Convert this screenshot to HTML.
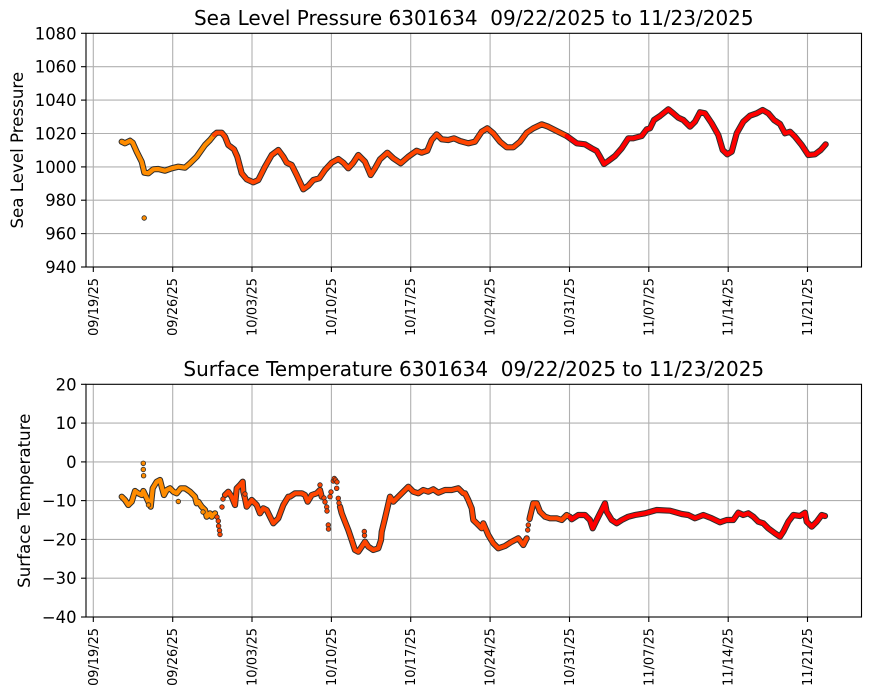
<!DOCTYPE html>
<html>
<head>
<meta charset="utf-8">
<style>
html,body{margin:0;padding:0;background:#fff;}
svg{display:block;}
text{font-family:"DejaVu Sans","Liberation Sans",sans-serif;fill:#000;}
.tk{font-size:16.4px;}
.xt{font-size:12.9px;}
.ttl{font-size:16.67px;}
.big{font-size:20px;}
.grid line{stroke:#b0b0b0;stroke-width:1.1;}
.ticks line{stroke:#000;stroke-width:1.1;}
.edge{fill:none;stroke:#2e2e2e;stroke-width:6.2;stroke-linejoin:round;stroke-linecap:round;}
.c1{fill:none;stroke:#ff8c00;stroke-width:4.2;stroke-linejoin:round;stroke-linecap:round;}
.c2{fill:none;stroke:#ff4500;stroke-width:4.2;stroke-linejoin:round;stroke-linecap:round;}
.c3{fill:none;stroke:#ff0000;stroke-width:4.2;stroke-linejoin:round;stroke-linecap:round;}
.d1{fill:#ff8c00;stroke:#2e2e2e;stroke-width:0.8;}
.d2{fill:#ff4500;stroke:#2e2e2e;stroke-width:0.8;}
</style>
</head>
<body>
<svg width="870" height="700" viewBox="0 0 870 700" xmlns="http://www.w3.org/2000/svg">
<rect width="870" height="700" fill="#fff"/>

<!-- ============ TOP PLOT ============ -->
<g class="grid">
  <line x1="93.3" y1="33.3" x2="93.3" y2="267"/>
  <line x1="172.7" y1="33.3" x2="172.7" y2="267"/>
  <line x1="252" y1="33.3" x2="252" y2="267"/>
  <line x1="331.4" y1="33.3" x2="331.4" y2="267"/>
  <line x1="410.7" y1="33.3" x2="410.7" y2="267"/>
  <line x1="490.1" y1="33.3" x2="490.1" y2="267"/>
  <line x1="569.5" y1="33.3" x2="569.5" y2="267"/>
  <line x1="648.8" y1="33.3" x2="648.8" y2="267"/>
  <line x1="728.2" y1="33.3" x2="728.2" y2="267"/>
  <line x1="807.5" y1="33.3" x2="807.5" y2="267"/>
  <line x1="86" y1="66.7" x2="861.5" y2="66.7"/>
  <line x1="86" y1="100.1" x2="861.5" y2="100.1"/>
  <line x1="86" y1="133.5" x2="861.5" y2="133.5"/>
  <line x1="86" y1="166.9" x2="861.5" y2="166.9"/>
  <line x1="86" y1="200.2" x2="861.5" y2="200.2"/>
  <line x1="86" y1="233.6" x2="861.5" y2="233.6"/>
</g>

<!-- top series -->
<g>
<polyline class="edge" points="121.7,141.7 125,143.3 130,140.7 132.7,142.7 136.7,151.7 141.7,161.7 143.3,168.3 144.3,172.7 148.3,173.3 153.3,169.3 158.3,169 165,170.7 171.7,168.3 178.3,166.7 185,167.7 190,163.3 196.7,156.7 205,145 210,140 214,135"/>
<polyline class="edge" points="214,135 216.7,132.7 221.7,132.7 225,136.7 228.3,145 234,149.3 237.3,156.7 241.7,173.3 246.7,179.3 253.3,182.3 258.3,180 265,166.7 271.7,155 278.3,150 283.3,156.7 286.7,162.7 291.7,165 296.7,175 303.3,189.3 308.3,185.7 313.3,180 319.3,178.3 325,170 331.7,162.7 338.3,159 343.3,162.7 348.3,168.3 353.3,162.7 358.3,155 365,161.7 370.7,175 375,168.3 380,159.3 387.3,152.7 393.3,158.3 400.7,163.3 408.3,156.7 416.7,150.7 421.7,152.7 427.3,150.7 431.7,140 436.7,134.3 441.7,139.3 448.3,140 454,138.3 460,141 468.3,143.3 475,141.7 481.7,131.7 487.3,128.3 493.3,133.3 500,141.7 506.7,147.3 513.3,147.3 520,141.7 526.7,132.7 533.3,128.3 541.7,124.3 548.3,126.7 556.7,131 566.7,136"/>
<polyline class="edge" points="566.7,136 576.7,143.3 585,144.3 591.7,148.3 596.7,151 600,156.7 604,164 608.3,161 615,156 621.7,148.3 628.3,138.3 633.3,138.3 641.7,136 646.7,129.3 650,128.3 654,120 660,116 668.3,109.3 673.3,113.3 678.3,117.7 683.3,120 690,126.7 695,121.7 700,112.3 705,113.3 711.7,123.3 718.3,135 722.7,150 727.3,154.3 731.7,151.7 736.7,133.3 743.3,121.7 750,115.7 756.7,113.3 762.7,110 768.3,113.3 774,120 780,124 785,133.3 790,131.7 795,136.7 801.7,145 808.3,155 815,154.3 820.7,150 825.7,144.3"/>
<polyline class="c1" points="121.7,141.7 125,143.3 130,140.7 132.7,142.7 136.7,151.7 141.7,161.7 143.3,168.3 144.3,172.7 148.3,173.3 153.3,169.3 158.3,169 165,170.7 171.7,168.3 178.3,166.7 185,167.7 190,163.3 196.7,156.7 205,145 210,140 214,135"/>
<polyline class="c2" points="214,135 216.7,132.7 221.7,132.7 225,136.7 228.3,145 234,149.3 237.3,156.7 241.7,173.3 246.7,179.3 253.3,182.3 258.3,180 265,166.7 271.7,155 278.3,150 283.3,156.7 286.7,162.7 291.7,165 296.7,175 303.3,189.3 308.3,185.7 313.3,180 319.3,178.3 325,170 331.7,162.7 338.3,159 343.3,162.7 348.3,168.3 353.3,162.7 358.3,155 365,161.7 370.7,175 375,168.3 380,159.3 387.3,152.7 393.3,158.3 400.7,163.3 408.3,156.7 416.7,150.7 421.7,152.7 427.3,150.7 431.7,140 436.7,134.3 441.7,139.3 448.3,140 454,138.3 460,141 468.3,143.3 475,141.7 481.7,131.7 487.3,128.3 493.3,133.3 500,141.7 506.7,147.3 513.3,147.3 520,141.7 526.7,132.7 533.3,128.3 541.7,124.3 548.3,126.7 556.7,131 566.7,136"/>
<polyline class="c3" points="566.7,136 576.7,143.3 585,144.3 591.7,148.3 596.7,151 600,156.7 604,164 608.3,161 615,156 621.7,148.3 628.3,138.3 633.3,138.3 641.7,136 646.7,129.3 650,128.3 654,120 660,116 668.3,109.3 673.3,113.3 678.3,117.7 683.3,120 690,126.7 695,121.7 700,112.3 705,113.3 711.7,123.3 718.3,135 722.7,150 727.3,154.3 731.7,151.7 736.7,133.3 743.3,121.7 750,115.7 756.7,113.3 762.7,110 768.3,113.3 774,120 780,124 785,133.3 790,131.7 795,136.7 801.7,145 808.3,155 815,154.3 820.7,150 825.7,144.3"/>
<circle class="d1" cx="144.2" cy="218" r="2.3"/>
</g>

<!-- top frame -->
<rect x="86" y="33.3" width="775.5" height="233.7" fill="none" stroke="#000" stroke-width="1.1"/>
<g class="ticks">
  <line x1="93.3" y1="267" x2="93.3" y2="272"/>
  <line x1="172.7" y1="267" x2="172.7" y2="272"/>
  <line x1="252" y1="267" x2="252" y2="272"/>
  <line x1="331.4" y1="267" x2="331.4" y2="272"/>
  <line x1="410.7" y1="267" x2="410.7" y2="272"/>
  <line x1="490.1" y1="267" x2="490.1" y2="272"/>
  <line x1="569.5" y1="267" x2="569.5" y2="272"/>
  <line x1="648.8" y1="267" x2="648.8" y2="272"/>
  <line x1="728.2" y1="267" x2="728.2" y2="272"/>
  <line x1="807.5" y1="267" x2="807.5" y2="272"/>
  <line x1="81" y1="33.3" x2="86" y2="33.3"/>
  <line x1="81" y1="66.7" x2="86" y2="66.7"/>
  <line x1="81" y1="100.1" x2="86" y2="100.1"/>
  <line x1="81" y1="133.5" x2="86" y2="133.5"/>
  <line x1="81" y1="166.9" x2="86" y2="166.9"/>
  <line x1="81" y1="200.2" x2="86" y2="200.2"/>
  <line x1="81" y1="233.6" x2="86" y2="233.6"/>
  <line x1="81" y1="267" x2="86" y2="267"/>
</g>
<g class="tk" text-anchor="end">
  <text x="76.5" y="39.3">1080</text>
  <text x="76.5" y="72.7">1060</text>
  <text x="76.5" y="106.1">1040</text>
  <text x="76.5" y="139.5">1020</text>
  <text x="76.5" y="172.9">1000</text>
  <text x="76.5" y="206.2">980</text>
  <text x="76.5" y="239.6">960</text>
  <text x="76.5" y="273">940</text>
</g>
<g class="xt" text-anchor="end">
  <text transform="translate(97.8,278) rotate(-90)">09/19/25</text>
  <text transform="translate(177.2,278) rotate(-90)">09/26/25</text>
  <text transform="translate(256.5,278) rotate(-90)">10/03/25</text>
  <text transform="translate(335.9,278) rotate(-90)">10/10/25</text>
  <text transform="translate(415.2,278) rotate(-90)">10/17/25</text>
  <text transform="translate(494.6,278) rotate(-90)">10/24/25</text>
  <text transform="translate(574,278) rotate(-90)">10/31/25</text>
  <text transform="translate(653.3,278) rotate(-90)">11/07/25</text>
  <text transform="translate(732.7,278) rotate(-90)">11/14/25</text>
  <text transform="translate(812,278) rotate(-90)">11/21/25</text>
</g>
<text class="big" x="473.8" y="25" text-anchor="middle" xml:space="preserve">Sea Level Pressure 6301634  09/22/2025 to 11/23/2025</text>
<text class="ttl" transform="translate(23,150.2) rotate(-90)" text-anchor="middle">Sea Level Pressure</text>

<!-- ============ BOTTOM PLOT ============ -->
<g class="grid">
  <line x1="93.3" y1="384.3" x2="93.3" y2="617"/>
  <line x1="172.7" y1="384.3" x2="172.7" y2="617"/>
  <line x1="252" y1="384.3" x2="252" y2="617"/>
  <line x1="331.4" y1="384.3" x2="331.4" y2="617"/>
  <line x1="410.7" y1="384.3" x2="410.7" y2="617"/>
  <line x1="490.1" y1="384.3" x2="490.1" y2="617"/>
  <line x1="569.5" y1="384.3" x2="569.5" y2="617"/>
  <line x1="648.8" y1="384.3" x2="648.8" y2="617"/>
  <line x1="728.2" y1="384.3" x2="728.2" y2="617"/>
  <line x1="807.5" y1="384.3" x2="807.5" y2="617"/>
  <line x1="86" y1="423.1" x2="861.5" y2="423.1"/>
  <line x1="86" y1="461.9" x2="861.5" y2="461.9"/>
  <line x1="86" y1="500.6" x2="861.5" y2="500.6"/>
  <line x1="86" y1="539.4" x2="861.5" y2="539.4"/>
  <line x1="86" y1="578.2" x2="861.5" y2="578.2"/>
</g>

<g>
<!-- edges -->
<polyline class="edge" points="121.7,496.7 125,500 128.3,505 131.7,501.7 135,491 138.3,493.3 141.7,495 143.3,491 146,496.7 148.3,501.7 150.7,506.7 152.7,488.3 156.7,481.7 160,480 161.7,486.7 164,495 166.7,490 170,488.3 173.3,491.7 176.7,493.3 180.7,488.3 185,488.3 190,491.7 195,496.7 196.7,503.3 198.3,501.7 201.7,506.7 205,510 206.7,516.7 210,513.3 211.7,516.7 215,513.3"/>
<polyline class="edge" points="225,495 228.3,491.7 231.7,496.7 235,505 236.7,488.3 240,485 242.7,481.7 243.3,491.7 245,498.3 246.7,506.7 251.7,500 256.7,505 260,513.3 263.3,508.3 266.7,510 270,516.7 273.3,523.3 278.3,518.3 283.3,505 288.3,496.7 290,496.7 295,493.3 301.7,493.3 305,495 307.7,501.7 311.7,495 316.7,493.3 320,490 321.7,496.7"/>
<polyline class="edge" points="340,506.7 341.7,513.3 345,521.7 348.3,530 351.7,540 355,550 358.3,551.7 361.7,546.7 365,541.7 368.3,546.7 373.3,550 378.3,548.3 381,540 381.7,531.7 385,518.3 387.7,506.7 390,496.7 393.3,501.7 398.3,496.7 403.3,491.7 408.3,486.7 413.3,491.7 418.3,493.3 423.3,490 428.3,491.7 433.3,489.3 438.3,492.7 445,490 451.7,490 458.3,488.3 463.3,493.3 465,493.3 468.3,500 471.7,508.3 473.3,520 476.7,523.3 481.7,528.3 483.3,523.3 488.3,535 493.3,543.3 498.3,548.3 505,546 511.7,541.7 518.3,538.3 523.3,545 526.7,538.3"/>
<polyline class="edge" points="529.5,519 530,516.7 533.3,503.3 536.7,503.3 540,511.7 545,516.7 550,518.3 556.7,518.3 561.7,520 566.7,515 570,517"/>
<polyline class="edge" points="570,517 571.7,519.3 578.3,515 585,515 590,520 592.7,528.3 596.7,520 601.7,510 605,503.3 606.7,511.7 611.7,520 616.7,523.3 621.7,520 628.3,516.7 635,515 645,513.3 656.7,510 670,510.7 681.7,514 688.3,515 695,518.3 703.3,515 711.7,518.3 720,522.3 726.7,520 733.3,520 738.3,512.7 743.3,515 748.3,513.3 753.3,516.7 758.3,521.7 763.3,523.3 768.3,528.3 775,533.3 780,536.7 783.3,531.7 788.3,521.7 793.3,515 800,516 805,512.7 806.7,521.7 811.7,526.7 816.7,521.7 821.7,515 825,516"/>
<!-- colors -->
<polyline class="c1" points="121.7,496.7 125,500 128.3,505 131.7,501.7 135,491 138.3,493.3 141.7,495 143.3,491 146,496.7 148.3,501.7 150.7,506.7 152.7,488.3 156.7,481.7 160,480 161.7,486.7 164,495 166.7,490 170,488.3 173.3,491.7 176.7,493.3 180.7,488.3 185,488.3 190,491.7 195,496.7 196.7,503.3 198.3,501.7 201.7,506.7 205,510 206.7,516.7 210,513.3 211.7,516.7 215,513.3"/>
<polyline class="c2" points="225,495 228.3,491.7 231.7,496.7 235,505 236.7,488.3 240,485 242.7,481.7 243.3,491.7 245,498.3 246.7,506.7 251.7,500 256.7,505 260,513.3 263.3,508.3 266.7,510 270,516.7 273.3,523.3 278.3,518.3 283.3,505 288.3,496.7 290,496.7 295,493.3 301.7,493.3 305,495 307.7,501.7 311.7,495 316.7,493.3 320,490 321.7,496.7"/>
<polyline class="c2" points="340,506.7 341.7,513.3 345,521.7 348.3,530 351.7,540 355,550 358.3,551.7 361.7,546.7 365,541.7 368.3,546.7 373.3,550 378.3,548.3 381,540 381.7,531.7 385,518.3 387.7,506.7 390,496.7 393.3,501.7 398.3,496.7 403.3,491.7 408.3,486.7 413.3,491.7 418.3,493.3 423.3,490 428.3,491.7 433.3,489.3 438.3,492.7 445,490 451.7,490 458.3,488.3 463.3,493.3 465,493.3 468.3,500 471.7,508.3 473.3,520 476.7,523.3 481.7,528.3 483.3,523.3 488.3,535 493.3,543.3 498.3,548.3 505,546 511.7,541.7 518.3,538.3 523.3,545 526.7,538.3"/>
<polyline class="c2" points="529.5,519 530,516.7 533.3,503.3 536.7,503.3 540,511.7 545,516.7 550,518.3 556.7,518.3 561.7,520 566.7,515 570,517"/>
<polyline class="c3" points="570,517 571.7,519.3 578.3,515 585,515 590,520 592.7,528.3 596.7,520 601.7,510 605,503.3 606.7,511.7 611.7,520 616.7,523.3 621.7,520 628.3,516.7 635,515 645,513.3 656.7,510 670,510.7 681.7,514 688.3,515 695,518.3 703.3,515 711.7,518.3 720,522.3 726.7,520 733.3,520 738.3,512.7 743.3,515 748.3,513.3 753.3,516.7 758.3,521.7 763.3,523.3 768.3,528.3 775,533.3 780,536.7 783.3,531.7 788.3,521.7 793.3,515 800,516 805,512.7 806.7,521.7 811.7,526.7 816.7,521.7 821.7,515 825,516"/>
<!-- scattered dots -->
<circle class="d1" cx="143.3" cy="463.3" r="2.3"/>
<circle class="d1" cx="143.3" cy="469.5" r="2.3"/>
<circle class="d1" cx="143.6" cy="475.7" r="2.3"/>
<circle class="d1" cx="178.3" cy="501.5" r="2.3"/>
<circle class="d1" cx="148.5" cy="505" r="2.3"/>
<circle class="d1" cx="203" cy="512" r="2.3"/>
<circle class="d2" cx="217" cy="517" r="2.3"/>
<circle class="d2" cx="218.3" cy="521" r="2.3"/>
<circle class="d2" cx="218.6" cy="526" r="2.3"/>
<circle class="d2" cx="219.5" cy="530.5" r="2.3"/>
<circle class="d2" cx="220" cy="534.5" r="2.3"/>
<circle class="d2" cx="222" cy="507" r="2.3"/>
<circle class="d2" cx="223" cy="499" r="2.3"/>
<circle class="d2" cx="245" cy="494" r="2.3"/>
<circle class="d2" cx="320" cy="485" r="2.3"/>
<circle class="d2" cx="324" cy="498" r="2.3"/>
<circle class="d2" cx="325" cy="502" r="2.3"/>
<circle class="d2" cx="326.7" cy="507" r="2.3"/>
<circle class="d2" cx="327" cy="511" r="2.3"/>
<circle class="d2" cx="328.3" cy="525" r="2.3"/>
<circle class="d2" cx="328.5" cy="529" r="2.3"/>
<circle class="d2" cx="330" cy="496.7" r="2.3"/>
<circle class="d2" cx="331" cy="492" r="2.3"/>
<circle class="d2" cx="333.3" cy="481" r="2.3"/>
<circle class="d2" cx="334.3" cy="478.5" r="2.3"/>
<circle class="d2" cx="335.5" cy="480" r="2.3"/>
<circle class="d2" cx="337" cy="482" r="2.3"/>
<circle class="d2" cx="336.7" cy="488.3" r="2.3"/>
<circle class="d2" cx="338.3" cy="498.3" r="2.3"/>
<circle class="d2" cx="339" cy="503" r="2.3"/>
<circle class="d2" cx="364.3" cy="531.5" r="2.3"/>
<circle class="d2" cx="364.5" cy="535.5" r="2.3"/>
<circle class="d2" cx="527.7" cy="530" r="2.3"/>
<circle class="d2" cx="528.3" cy="525" r="2.3"/>
</g>

<!-- bottom frame -->
<rect x="86" y="384.3" width="775.5" height="232.7" fill="none" stroke="#000" stroke-width="1.1"/>
<g class="ticks">
  <line x1="93.3" y1="617" x2="93.3" y2="622"/>
  <line x1="172.7" y1="617" x2="172.7" y2="622"/>
  <line x1="252" y1="617" x2="252" y2="622"/>
  <line x1="331.4" y1="617" x2="331.4" y2="622"/>
  <line x1="410.7" y1="617" x2="410.7" y2="622"/>
  <line x1="490.1" y1="617" x2="490.1" y2="622"/>
  <line x1="569.5" y1="617" x2="569.5" y2="622"/>
  <line x1="648.8" y1="617" x2="648.8" y2="622"/>
  <line x1="728.2" y1="617" x2="728.2" y2="622"/>
  <line x1="807.5" y1="617" x2="807.5" y2="622"/>
  <line x1="81" y1="384.3" x2="86" y2="384.3"/>
  <line x1="81" y1="423.1" x2="86" y2="423.1"/>
  <line x1="81" y1="461.9" x2="86" y2="461.9"/>
  <line x1="81" y1="500.6" x2="86" y2="500.6"/>
  <line x1="81" y1="539.4" x2="86" y2="539.4"/>
  <line x1="81" y1="578.2" x2="86" y2="578.2"/>
  <line x1="81" y1="617" x2="86" y2="617"/>
</g>
<g class="tk" text-anchor="end">
  <text x="76.5" y="390.3">20</text>
  <text x="76.5" y="429.1">10</text>
  <text x="76.5" y="467.9">0</text>
  <text x="76.5" y="506.6">−10</text>
  <text x="76.5" y="545.4">−20</text>
  <text x="76.5" y="584.2">−30</text>
  <text x="76.5" y="623">−40</text>
</g>
<g class="xt" text-anchor="end">
  <text transform="translate(97.8,628) rotate(-90)">09/19/25</text>
  <text transform="translate(177.2,628) rotate(-90)">09/26/25</text>
  <text transform="translate(256.5,628) rotate(-90)">10/03/25</text>
  <text transform="translate(335.9,628) rotate(-90)">10/10/25</text>
  <text transform="translate(415.2,628) rotate(-90)">10/17/25</text>
  <text transform="translate(494.6,628) rotate(-90)">10/24/25</text>
  <text transform="translate(574,628) rotate(-90)">10/31/25</text>
  <text transform="translate(653.3,628) rotate(-90)">11/07/25</text>
  <text transform="translate(732.7,628) rotate(-90)">11/14/25</text>
  <text transform="translate(812,628) rotate(-90)">11/21/25</text>
</g>
<text class="big" x="473.8" y="376" text-anchor="middle" xml:space="preserve">Surface Temperature 6301634  09/22/2025 to 11/23/2025</text>
<text class="ttl" transform="translate(30,500.7) rotate(-90)" text-anchor="middle">Surface Temperature</text>
</svg>
</body>
</html>
